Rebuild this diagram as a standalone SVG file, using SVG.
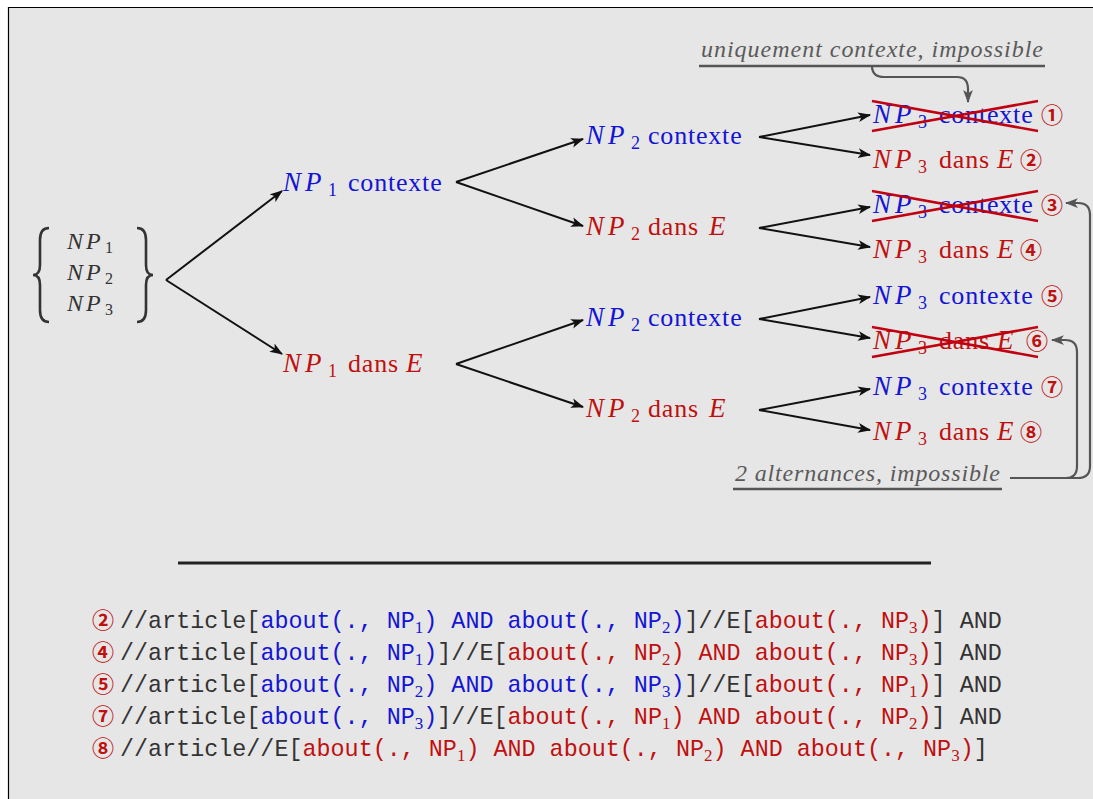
<svg xmlns="http://www.w3.org/2000/svg" width="1093" height="799" viewBox="0 0 1093 799">
<defs>
<style>
.t{font-family:"Liberation Serif","DejaVu Serif",serif;font-size:26px;letter-spacing:0.8px}
.i{font-family:"Liberation Serif","DejaVu Serif",serif;font-style:italic;font-size:27px}
.sb{font-family:"Liberation Serif","DejaVu Serif",serif;font-size:18px}
.b{fill:#1414d4}
.r{fill:#bf1010}
.g{fill:#333333}
.c{font-family:"Noto Sans CJK JP","DejaVu Sans",sans-serif;font-size:22px;font-weight:bold;fill:#bf1010}
.ann{font-family:"Liberation Serif","DejaVu Serif",serif;font-style:italic;font-size:24px;fill:#5a5a5a}
.code{font-family:"Liberation Mono","DejaVu Sans Mono",monospace;font-size:23.4px;fill:#333333;white-space:pre}
.cs{font-family:"Liberation Serif",serif;font-size:17px}
.cb{fill:#1414d4}
.cr{fill:#bf1010}
.arr{fill:none;stroke:#111;stroke-width:2}
.gl{fill:none;stroke:#555;stroke-width:2.2}
.x{stroke:#c00010;stroke-width:2.5}
</style>
<marker id="ah" viewBox="0 0 12 10" refX="11" refY="5" markerWidth="13" markerHeight="11" markerUnits="userSpaceOnUse" orient="auto">
<path d="M0,0.5 L12,5 L0,9.5 L3,5 z" fill="#111"/>
</marker>
<marker id="ahg" viewBox="0 0 12 10" refX="11" refY="5" markerWidth="13" markerHeight="11" markerUnits="userSpaceOnUse" orient="auto">
<path d="M0,0.5 L12,5 L0,9.5 L3,5 z" fill="#555"/>
</marker>
</defs>
<rect x="0" y="0" width="1093" height="799" fill="#ffffff"/>
<rect x="8.5" y="7.5" width="1090" height="800" fill="#e6e6e6"/>
<path d="M8.5,799 L8.5,7.5 L1093,7.5" fill="none" stroke="#000" stroke-width="1.2"/>

<g id="root">
<path d="M49,228 Q40,228 40,240 L40,265 Q40,275 33,275 Q40,275 40,285 L40,310 Q40,322 49,322" fill="none" stroke="#333" stroke-width="2.6"/>
<path d="M137,228 Q146,228 146,240 L146,265 Q146,275 153,275 Q146,275 146,285 L146,310 Q146,322 137,322" fill="none" stroke="#333" stroke-width="2.6"/>
<text class="i g" x="67" y="249" style="font-size:24px">N</text><text class="i g" x="86" y="249" style="font-size:24px">P</text><text class="sb g" x="105" y="253" style="font-size:16px">1</text>
<text class="i g" x="67" y="280" style="font-size:24px">N</text><text class="i g" x="86" y="280" style="font-size:24px">P</text><text class="sb g" x="105" y="284" style="font-size:16px">2</text>
<text class="i g" x="67" y="311" style="font-size:24px">N</text><text class="i g" x="86" y="311" style="font-size:24px">P</text><text class="sb g" x="105" y="315" style="font-size:16px">3</text>
</g>

<g id="n1c"><text class="i b" x="283" y="191">N</text><text class="i b" x="305" y="191">P</text><text class="sb b" x="328" y="196">1</text><text class="t b" x="348" y="191">contexte</text></g>
<g id="n1d"><text class="i r" x="283" y="372">N</text><text class="i r" x="305" y="372">P</text><text class="sb r" x="328" y="377">1</text><text class="t r" x="348" y="372">dans</text><text class="i r" x="406" y="372">E</text></g>

<g id="n2c1"><text class="i b" x="586" y="144">N</text><text class="i b" x="608" y="144">P</text><text class="sb b" x="631" y="149">2</text><text class="t b" x="648" y="144">contexte</text></g>
<g id="n2d1"><text class="i r" x="586" y="235">N</text><text class="i r" x="608" y="235">P</text><text class="sb r" x="631" y="240">2</text><text class="t r" x="648" y="235">dans</text><text class="i r" x="709" y="235">E</text></g>
<g id="n2c2"><text class="i b" x="586" y="326">N</text><text class="i b" x="608" y="326">P</text><text class="sb b" x="631" y="331">2</text><text class="t b" x="648" y="326">contexte</text></g>
<g id="n2d2"><text class="i r" x="586" y="417">N</text><text class="i r" x="608" y="417">P</text><text class="sb r" x="631" y="422">2</text><text class="t r" x="648" y="417">dans</text><text class="i r" x="709" y="417">E</text></g>

<g id="l1"><text class="i b" x="873" y="123">N</text><text class="i b" x="895" y="123">P</text><text class="sb b" x="918" y="128">3</text><text class="t b" x="939" y="123">contexte</text><text class="c" x="1041" y="123">①</text>
<line class="x" x1="872" y1="101" x2="1038" y2="131"/><line class="x" x1="872" y1="131" x2="1038" y2="101"/></g>
<g id="l2"><text class="i r" x="873" y="168">N</text><text class="i r" x="895" y="168">P</text><text class="sb r" x="918" y="173">3</text><text class="t r" x="939" y="168">dans</text><text class="i r" x="997" y="168">E</text><text class="c" x="1020" y="168">②</text></g>
<g id="l3"><text class="i b" x="873" y="213">N</text><text class="i b" x="895" y="213">P</text><text class="sb b" x="918" y="218">3</text><text class="t b" x="939" y="213">contexte</text><text class="c" x="1041" y="213">③</text>
<line class="x" x1="872" y1="191" x2="1038" y2="221"/><line class="x" x1="872" y1="221" x2="1038" y2="191"/></g>
<g id="l4"><text class="i r" x="873" y="258">N</text><text class="i r" x="895" y="258">P</text><text class="sb r" x="918" y="263">3</text><text class="t r" x="939" y="258">dans</text><text class="i r" x="997" y="258">E</text><text class="c" x="1020" y="258">④</text></g>
<g id="l5"><text class="i b" x="873" y="304">N</text><text class="i b" x="895" y="304">P</text><text class="sb b" x="918" y="309">3</text><text class="t b" x="939" y="304">contexte</text><text class="c" x="1041" y="304">⑤</text></g>
<g id="l6"><text class="i r" x="873" y="349">N</text><text class="i r" x="895" y="349">P</text><text class="sb r" x="918" y="354">3</text><text class="t r" x="939" y="349">dans</text><text class="i r" x="997" y="349">E</text><text class="c" x="1026" y="349">⑥</text>
<line class="x" x1="872" y1="327" x2="1038" y2="357"/><line class="x" x1="872" y1="357" x2="1038" y2="327"/></g>
<g id="l7"><text class="i b" x="873" y="395">N</text><text class="i b" x="895" y="395">P</text><text class="sb b" x="918" y="400">3</text><text class="t b" x="939" y="395">contexte</text><text class="c" x="1041" y="395">⑦</text></g>
<g id="l8"><text class="i r" x="873" y="440">N</text><text class="i r" x="895" y="440">P</text><text class="sb r" x="918" y="445">3</text><text class="t r" x="939" y="440">dans</text><text class="i r" x="997" y="440">E</text><text class="c" x="1020" y="440">⑧</text></g>

<g id="ann-top">
<text class="ann" x="701" y="57" textLength="342" lengthAdjust="spacing">uniquement contexte, impossible</text>
<line x1="699" y1="66" x2="1045" y2="66" stroke="#555" stroke-width="2.6"/>
</g>
<g id="ann-bottom">
<text class="ann" x="735" y="481" textLength="265" lengthAdjust="spacing">2 alternances, impossible</text>
<line x1="733" y1="489" x2="1002" y2="489" stroke="#555" stroke-width="2.6"/>
</g>

<g id="connectors">
<path class="arr" d="M166,280 L282,191" marker-end="url(#ah)"/>
<path class="arr" d="M166,280 L282,354" marker-end="url(#ah)"/>
<path class="arr" d="M456,182 L583,139" marker-end="url(#ah)"/>
<path class="arr" d="M456,182 L583,226" marker-end="url(#ah)"/>
<path class="arr" d="M456,364 L583,320" marker-end="url(#ah)"/>
<path class="arr" d="M456,364 L583,407" marker-end="url(#ah)"/>
<path class="arr" d="M759,137 L870,115" marker-end="url(#ah)"/>
<path class="arr" d="M759,137 L870,155" marker-end="url(#ah)"/>
<path class="arr" d="M759,228 L870,207" marker-end="url(#ah)"/>
<path class="arr" d="M759,228 L870,247" marker-end="url(#ah)"/>
<path class="arr" d="M759,319 L870,297" marker-end="url(#ah)"/>
<path class="arr" d="M759,319 L870,338" marker-end="url(#ah)"/>
<path class="arr" d="M759,410 L870,389" marker-end="url(#ah)"/>
<path class="arr" d="M759,410 L870,430" marker-end="url(#ah)"/>
<path class="gl" d="M872,66 Q872,77 884,77 L957,77 Q968,77 968,89 L968,102" marker-end="url(#ahg)"/>
<path class="gl" d="M1010,478 L1078,478 Q1090,478 1090,466 L1090,215 Q1090,203 1078,203 L1066,203" marker-end="url(#ahg)"/>
<path class="gl" d="M1010,478 L1066,478 Q1077,478 1077,466 L1077,352 Q1077,340 1065,340 L1052,340" marker-end="url(#ahg)"/>
</g>

<line id="sep" x1="178" y1="563" x2="931" y2="563" stroke="#222" stroke-width="3"/>

<g id="code">
<text class="c" x="92" y="628">②</text>
<text class="code" x="120" y="628" xml:space="preserve">//article[<tspan class="cb">about(., NP</tspan><tspan class="cs cb" dy="5">1</tspan><tspan class="cb" dy="-5">) AND about(., NP</tspan><tspan class="cs cb" dy="5">2</tspan><tspan class="cb" dy="-5">)</tspan>]//E[<tspan class="cr">about(., NP</tspan><tspan class="cs cr" dy="5">3</tspan><tspan class="cr" dy="-5">)</tspan>] AND</text>
<text class="c" x="92" y="660">④</text>
<text class="code" x="120" y="660" xml:space="preserve">//article[<tspan class="cb">about(., NP</tspan><tspan class="cs cb" dy="5">1</tspan><tspan class="cb" dy="-5">)</tspan>]//E[<tspan class="cr">about(., NP</tspan><tspan class="cs cr" dy="5">2</tspan><tspan class="cr" dy="-5">) AND about(., NP</tspan><tspan class="cs cr" dy="5">3</tspan><tspan class="cr" dy="-5">)</tspan>] AND</text>
<text class="c" x="92" y="692">⑤</text>
<text class="code" x="120" y="692" xml:space="preserve">//article[<tspan class="cb">about(., NP</tspan><tspan class="cs cb" dy="5">2</tspan><tspan class="cb" dy="-5">) AND about(., NP</tspan><tspan class="cs cb" dy="5">3</tspan><tspan class="cb" dy="-5">)</tspan>]//E[<tspan class="cr">about(., NP</tspan><tspan class="cs cr" dy="5">1</tspan><tspan class="cr" dy="-5">)</tspan>] AND</text>
<text class="c" x="92" y="724">⑦</text>
<text class="code" x="120" y="724" xml:space="preserve">//article[<tspan class="cb">about(., NP</tspan><tspan class="cs cb" dy="5">3</tspan><tspan class="cb" dy="-5">)</tspan>]//E[<tspan class="cr">about(., NP</tspan><tspan class="cs cr" dy="5">1</tspan><tspan class="cr" dy="-5">) AND about(., NP</tspan><tspan class="cs cr" dy="5">2</tspan><tspan class="cr" dy="-5">)</tspan>] AND</text>
<text class="c" x="92" y="756">⑧</text>
<text class="code" x="120" y="756" xml:space="preserve">//article//E[<tspan class="cr">about(., NP</tspan><tspan class="cs cr" dy="5">1</tspan><tspan class="cr" dy="-5">) AND about(., NP</tspan><tspan class="cs cr" dy="5">2</tspan><tspan class="cr" dy="-5">) AND about(., NP</tspan><tspan class="cs cr" dy="5">3</tspan><tspan class="cr" dy="-5">)</tspan>]</text>
</g>
</svg>
